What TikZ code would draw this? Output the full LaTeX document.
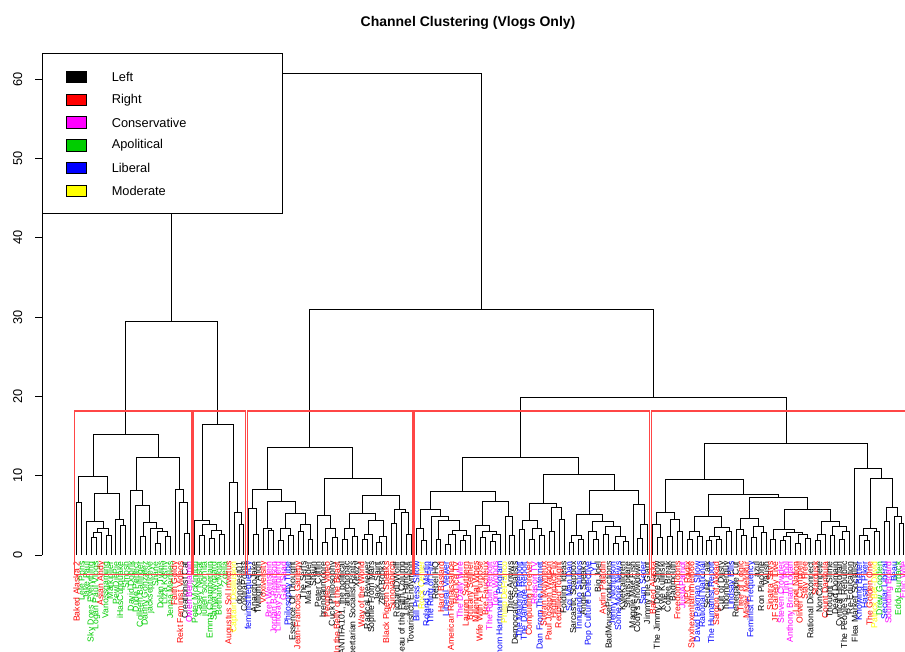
\documentclass[tikz,border=0pt]{standalone}
\usepackage{fontspec}
\setmainfont{Liberation Sans}
\definecolor{Lft}{RGB}{0,0,0}
\definecolor{Rgt}{RGB}{255,0,0}
\definecolor{Cons}{RGB}{255,0,255}
\definecolor{Apol}{RGB}{0,205,0}
\definecolor{Lib}{RGB}{0,0,255}
\definecolor{Mod}{RGB}{255,255,0}
\definecolor{cutred}{RGB}{255,70,70}

% a small stack of subtree names, leaves and joins in postfix order
\newcount\nleaf
\newcount\nfuse
\let\stkend\relax
\let\stkstop\relax
\gdef\stk{\stkend}
\def\pushs#1{\xdef\stk{{#1}\stk}}
\def\popsaux#1#2\stkstop#3{\gdef#3{#1}\gdef\stk{#2}}
\def\pops#1{\expandafter\popsaux\stk\stkstop#1}
\newcommand\chan[2]{\global\advance\nleaf by 1
  \coordinate (c\the\nleaf) at ({76.5+(\the\nleaf-1)*4.925},0);
  \node[leaflab,text=#1] (t\the\nleaf) at ({76.5+(\the\nleaf-1)*4.925},-0.8) {#2};
  \pushs{c\the\nleaf}}
\newcommand\fuse[1]{\pops\rgtname\pops\lftname
  \global\advance\nfuse by 1
  \edef\fusepath{\noexpand\draw[branch] (\lftname) -- (\lftname\space|- 0,#1) -- coordinate (f\the\nfuse) (\rgtname\space|- 0,#1) -- (\rgtname);}%
  \fusepath
  \pushs{f\the\nfuse}}

\begin{document}
\begin{tikzpicture}[x=0.75pt, y=-0.75pt,
  branch/.style={line width=0.7pt, black},
  leaflab/.style={rotate=90, anchor=east, inner sep=0pt, font=\fontsize{6.5}{7}\selectfont},
  cutbox/.style={draw=cutred, line width=0.8pt},
  swatch/.style={draw=black, line width=0.5pt, minimum width=15.5pt, minimum height=8.5pt, inner sep=0pt},
  legtext/.style={anchor=west, inner sep=0pt, font=\fontsize{9.6}{11}\selectfont},
  ticklab/.style={rotate=90, inner sep=0pt, font=\fontsize{9.6}{11}\selectfont}]
\useasboundingbox (0,0) rectangle (905,652);
\node[font=\fontsize{10.5}{12}\selectfont\bfseries] (title) at (468,22.7) {Channel Clustering (Vlogs Only)};

\begin{scope}[shift={(0,555)}, y=5.95pt]
% axis
\draw[line width=0.7pt] (42,0) -- (42,60);
\foreach \v in {0,10,...,60} {
  \draw[line width=0.7pt] (42,\v) -- (35,\v);
  \node[ticklab] (tk\v) at (17.7,\v) {\v};
}
% cluster 1
\chan{Rgt}{Baked Alaska 2} \chan{Apol}{Lele Pons} \fuse{6.6}
\chan{Apol}{Jake Paul} \chan{Apol}{Sky Does Everything} \chan{Apol}{Logan Paul Vlogs} \fuse{2.2} \chan{Rgt}{Asian Andy} \fuse{2.9}
\chan{Apol}{Vanossgaming} \chan{Apol}{Markiplier} \fuse{2.5} \fuse{3.4} \fuse{4.2}
\chan{Apol}{PewDiePie} \chan{Apol}{iHasCupquake} \chan{Apol}{Smosh} \fuse{3.7} \fuse{4.5}
\fuse{7.8} \fuse{9.9}
\chan{Apol}{David Dobrik} \chan{Apol}{Dude Perfect} \chan{Apol}{Colleen Ballinger} \chan{Apol}{Danny Gonzalez} \fuse{2.3}
\chan{Apol}{jacksepticeye} \chan{Apol}{Shane} \chan{Apol}{Dolan Twins} \fuse{1.4} \chan{Apol}{Liza Koshy} \chan{Apol}{Jenna Marbles} \fuse{2.3}
\fuse{3.0} \fuse{3.4} \fuse{4.1} \fuse{6.3} \fuse{8.1}
\chan{Rgt}{Faith Goldy} \chan{Rgt}{Rekt Feminist Videos} \chan{Lft}{Creationist Cat} \chan{Cons}{Owen Benjamin} \fuse{2.7} \fuse{6.6} \fuse{8.3}
\fuse{12.3} \fuse{15.2}
% cluster 2
\chan{Apol}{Peter McKinnon} \chan{Apol}{Casey Neistat} \chan{Apol}{julien solomita} \fuse{2.4}
\chan{Apol}{Emma Chamberlain} \chan{Apol}{Safiya Nygaard} \fuse{2.1} \chan{Apol}{Bethany Mota} \chan{Apol}{Zoella} \fuse{2.6}
\fuse{3.1} \fuse{3.8} \fuse{4.3}
\chan{Rgt}{Augustus Sol Invictus} \chan{Mod}{Captain Disillusion} \chan{Lft}{donoteat01} \chan{Lft}{ContraPoints} \fuse{3.9} \fuse{5.4} \fuse{9.2}
\fuse{16.5} \fuse{29.4}
% cluster 3
\chan{Lib}{feministfrequency} \chan{Lft}{AnarchoJake} \chan{Lft}{Twilight Anon} \fuse{2.6} \fuse{5.9}
\chan{Rgt}{Voxiversity} \chan{Cons}{Bret Weinstein} \chan{Cons}{Jordan B Peterson} \fuse{3.1} \fuse{3.4}
\chan{Cons}{Lindsay Shepherd} \chan{Cons}{Gad Saad} \fuse{1.8} \chan{Lib}{Philosophy Tube} \chan{Lft}{Essence Of Thought} \fuse{2.4} \fuse{3.3}
\chan{Rgt}{Jean-Francois Gariepy} \chan{Lft}{The Serfs} \fuse{3.0} \chan{Lft}{Mia Mulder} \chan{Lft}{Shaun} \fuse{2.0} \fuse{3.8}
\fuse{5.2} \fuse{6.7} \fuse{8.2}
\chan{Lft}{Peter Coffin} \chan{Lft}{brendanmoore} \chan{Rgt}{Peoples Video} \fuse{1.6} \chan{Lft}{Cuck Philosophy} \chan{Rgt}{In the Belly of the Beast} \fuse{2.2} \fuse{3.4} \fuse{5.0}
\chan{Lft}{ANTIFA101, the political} \chan{Lft}{anarchopac} \fuse{2.0} \chan{Lft}{Libertarian Socialist Rants} \chan{Lft}{Xexizy} \fuse{2.3} \fuse{3.3}
\chan{Rgt}{Way of the World} \chan{Lft}{Radical Reviewer} \fuse{1.9} \chan{Lft}{Sophie From Mars} \fuse{2.6}
\chan{Lft}{Jack Saint} \chan{Lft}{Zero Books} \fuse{1.6} \chan{Rgt}{Black Pigeon Speaks} \fuse{2.3} \fuse{4.3} \fuse{5.2}
\chan{Rgt}{Sunovabirch} \chan{Lft}{RichardDWolff} \fuse{4.0} \chan{Lft}{Beau of the Fifth Column} \chan{Lft}{Lefty Hangout} \chan{Lft}{Tovarishch Endymion} \fuse{2.6} \fuse{5.3} \fuse{5.8}
\fuse{7.5} \fuse{9.7} \fuse{13.5}
% cluster 4
\chan{Lib}{Bill Press Show} \chan{Mod}{Rock Center} \chan{Lib}{Roland S. Martin} \fuse{1.8} \fuse{3.4}
\chan{Lib}{The Ring of Fire} \chan{Lft}{Rebel HQ} \chan{Rgt}{Hard Bastard} \fuse{2.0} \chan{Lib}{Liberal Viewer} \chan{Rgt}{American Renaissance} \fuse{1.3} \chan{Rgt}{Red Ice TV} \fuse{2.6}
\chan{Cons}{The Daily Wire} \chan{Rgt}{Lauren Southern} \fuse{1.8} \chan{Rgt}{Brittany Sellner} \fuse{2.4} \fuse{3.1} \fuse{4.4} \fuse{4.9} \fuse{5.8}
\chan{Rgt}{Millennial Woes} \chan{Rgt}{Wife With A Purpose} \chan{Rgt}{Bre Faucheux} \fuse{2.2} \chan{Cons}{The Rubin Report} \chan{Cons}{Tom Woods} \fuse{1.7} \chan{Lib}{Thom Hartmann Program} \fuse{2.6} \fuse{3.0} \fuse{3.7}
\chan{Mod}{Philip DeFranco} \chan{Lft}{Three Arrows} \chan{Lft}{Democratic Socialists} \fuse{2.4} \fuse{4.9} \fuse{6.7} \fuse{8.0}
\chan{Lib}{The Majority Report} \chan{Lib}{The Damage Report} \fuse{3.2} \chan{Rgt}{Computing Forever} \chan{Cons}{Reason TV} \fuse{2.0} \chan{Lib}{Dan From The Internet} \chan{Rgt}{Stefan Molyneux} \fuse{2.5} \fuse{3.4} \fuse{4.4}
\chan{Rgt}{Paul Joseph Watson} \chan{Rgt}{HighImpactFlix} \fuse{3.0} \chan{Rgt}{Redpilled Tonight} \chan{Lft}{Folding Ideas} \fuse{4.5} \fuse{6.0} \fuse{6.5}
\chan{Lib}{Sci Man Dan} \chan{Lft}{Sarcastic Soapbox} \fuse{1.6} \chan{Lib}{Innuendo Studios} \chan{Lft}{Angie Speaks} \fuse{2.0} \fuse{2.4}
\chan{Lib}{Pop Culture Detective} \chan{Lib}{TYT} \chan{Lft}{Big Joel} \fuse{2.0} \fuse{3.0} \chan{Rgt}{Aydin Paladin} \chan{Lft}{BadMouseProductions} \fuse{2.6}
\chan{Lib}{Jenny Nicholson} \chan{Lib}{Some More News} \fuse{1.5} \chan{Lft}{KyleKallgren} \chan{Lft}{Shanspeare} \fuse{1.7} \fuse{2.3} \fuse{3.6} \fuse{4.2} \fuse{5.1}
\chan{Lft}{Maggie Mae Fish} \chan{Lft}{Cody's Showdown} \chan{Lib}{Sam Seder} \fuse{2.1} \chan{Lft}{Jimmy the Giant} \fuse{3.9} \fuse{6.4} \fuse{8.1}
\fuse{10.1} \fuse{12.3}
% cluster 5
\chan{Rgt}{Baked Alaska} \chan{Lft}{The Jimmy Dore Show} \chan{Lft}{Kyle Kulinski} \fuse{2.2} \fuse{3.9}
\chan{Lft}{Coffee Break} \chan{Lft}{Badmouth} \fuse{2.3} \chan{Rgt}{FreedomToons} \chan{Cons}{JustAPatriot} \fuse{3.0} \fuse{4.5} \fuse{5.3}
\chan{Rgt}{NPC Radix} \chan{Rgt}{Styxhexenhammer666} \fuse{2.0} \chan{Lib}{David Pakman Show} \chan{Lib}{Rational National} \fuse{2.3} \fuse{3.0}
\chan{Lft}{Secular Talk} \chan{Lib}{The Humanist Report} \fuse{1.8} \chan{Rgt}{Sargon of Akkad} \chan{Lft}{Cult of Dusty} \fuse{2.0} \fuse{2.3}
\chan{Lft}{hbomberguy} \chan{Lib}{Lindsay Ellis} \fuse{3.0} \fuse{3.5} \fuse{4.8}
\chan{Lft}{Renegade Cut} \chan{Rgt}{Tree of Logic} \chan{Rgt}{Mister Metokur} \fuse{2.4} \fuse{3.2}
\chan{Lib}{Feminist Frequency} \chan{Lft}{azul} \fuse{2.2} \chan{Lft}{Ron Placone} \chan{Lft}{Vaush} \fuse{2.8} \fuse{3.6} \fuse{4.6}
\chan{Rgt}{Sinatra Says} \chan{Rgt}{JF Gariepy Live} \fuse{2.0} \chan{Cons}{Steven Crowder} \chan{Cons}{Tim Pool} \fuse{1.8} \chan{Cons}{Anthony Brian Logan} \fuse{2.3}
\chan{Rgt}{Lionel Nation} \chan{Rgt}{Oliver Campbell} \fuse{1.5} \chan{Rgt}{Stay Free} \chan{Lft}{Rational Disconnect} \fuse{2.1} \fuse{2.6} \fuse{2.9} \fuse{3.2}
\chan{Rgt}{Stardusk} \chan{Lft}{NonCompete} \fuse{1.8} \chan{Rgt}{Count Dankula} \fuse{2.6}
\chan{Lft}{Thought Slime} \chan{Lft}{Dead Domain} \fuse{2.4} \chan{Lft}{Cynical Historian} \chan{Lft}{The People's Republic} \fuse{2.0} \chan{Lft}{Re-Education} \fuse{3.0} \fuse{3.6} \fuse{4.2}
\fuse{5.7} \fuse{7.3} \fuse{7.65} \fuse{9.5}
\chan{Lft}{Flea Market Socialist} \chan{Lib}{Knowing Better} \chan{Lib}{Hasan Piker} \chan{Rgt}{The Golden One} \fuse{1.8} \fuse{2.4}
\chan{Mod}{Patrick Bet-David} \chan{Apol}{Drew Gooden} \fuse{3.0} \fuse{3.4}
\chan{Lib}{Secular Liberal} \chan{Cons}{Sounding Board} \fuse{4.2} \chan{Lib}{Beau} \chan{Apol}{Eddy Burback} \chan{Cons}{Epic Wife} \fuse{4.0} \fuse{4.9} \fuse{6.0}
\fuse{9.7} \fuse{10.9} \fuse{14.1}
% top joins
\fuse{19.8} \fuse{31.0} \fuse{60.7}
% cut at k = 5
\foreach \a/\b in {0.66/24.33, 24.66/35.33, 35.66/69.33, 69.66/117.33, 117.66/169.33}
  \draw[cutbox] ({76.5+(\a-1)*4.925},-2.4) rectangle ({76.5+(\b-1)*4.925},18.15);
\end{scope}

% legend
\node[draw=black, line width=0.7pt, fill=white, anchor=north west, minimum width=180.6pt, minimum height=120pt, inner sep=0pt] (legend) at (41.5,53.3) {};
\foreach \lab/\col [count=\i] in {Left/Lft, Right/Rgt, Conservative/Cons, Apolitical/Apol, Liberal/Lib, Moderate/Mod} {
  \node[swatch, fill=\col] (sw\i) at (76.3,{76.9+22.8*(\i-1)}) {};
  \node[legtext] (lg\i) at (111.5,{76.9+22.8*(\i-1)}) {\lab};
}
\end{tikzpicture}
\end{document}
